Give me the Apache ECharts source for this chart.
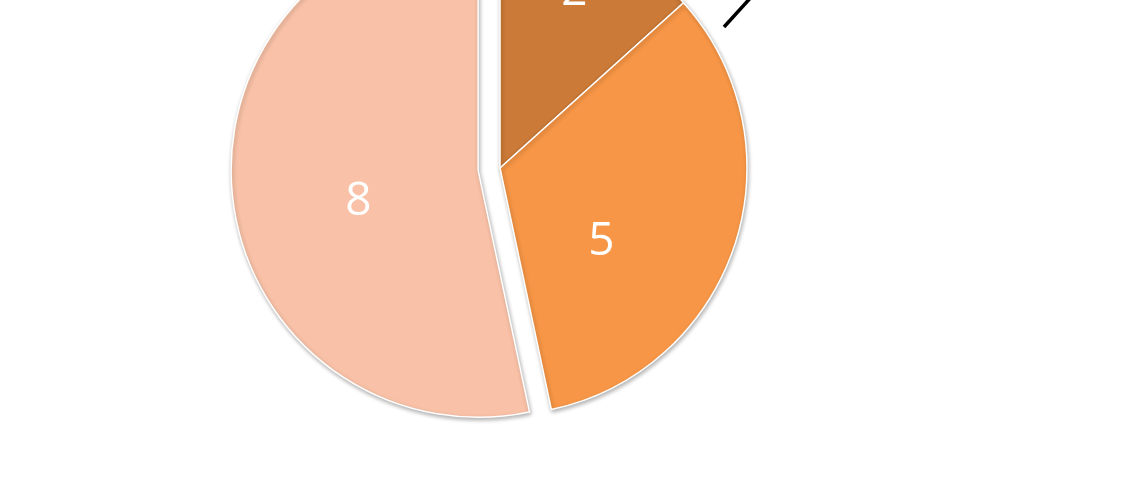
<!DOCTYPE html>
<html>
<head>
<meta charset="utf-8">
<script src="https://cdn.jsdelivr.net/npm/echarts@6/dist/echarts.min.js"></script>
<style>
html, body { margin: 0; padding: 0; background: #fff; }
#main { width: 1139px; height: 480px; }
</style>
</head>
<body>
<div id="main"></div>
<script>
var sliceNames = ['A', 'B', 'C'];
var sliceValues = [2, 5, 8];
var sliceColors = ['#CB7A38', '#F79646', '#F9C2A8'];
// label nudges, Excel puts them a bit off the mid radius
var labelShift = [[23, -61], [-19, 35], [6, 18]];

var myChart = echarts.init(document.getElementById('main'));

var pieData = [];
for (var i = 0; i < sliceValues.length; i++) {
    pieData.push({
        name: sliceNames[i],
        value: sliceValues[i],
        selected: i === 2,
        itemStyle: {color: sliceColors[i]},
        label: {offset: labelShift[i]},
        // selected slice uses the select state label, so nudge it there too
        select: {label: {offset: labelShift[i]}}
    });
}

myChart.setOption({
    animation: false,
    series: [
        {
            type: 'pie',
            center: [500, 168],
            radius: 247,
            startAngle: 90,
            clockwise: true,
            selectedMode: 'single',
            selectedOffset: 22,
            itemStyle: {
                borderColor: '#fff',
                borderWidth: 1.5,
                shadowBlur: 4,
                shadowOffsetX: 1,
                shadowOffsetY: 2,
                shadowColor: 'rgba(0,0,0,0.3)'
            },
            label: {
                show: true,
                position: 'inside',
                formatter: '{c}',
                color: '#fff',
                fontSize: 46,
                fontFamily: 'Open Sans'
            },
            labelLine: {show: false},
            emphasis: {disabled: true},
            data: pieData
        }
    ],
    graphic: [
        {
            type: 'line',
            shape: {x1: 724, y1: 27, x2: 754, y2: -6},
            style: {stroke: '#000', lineWidth: 3.5}
        }
    ]
});
</script>
</body>
</html>
